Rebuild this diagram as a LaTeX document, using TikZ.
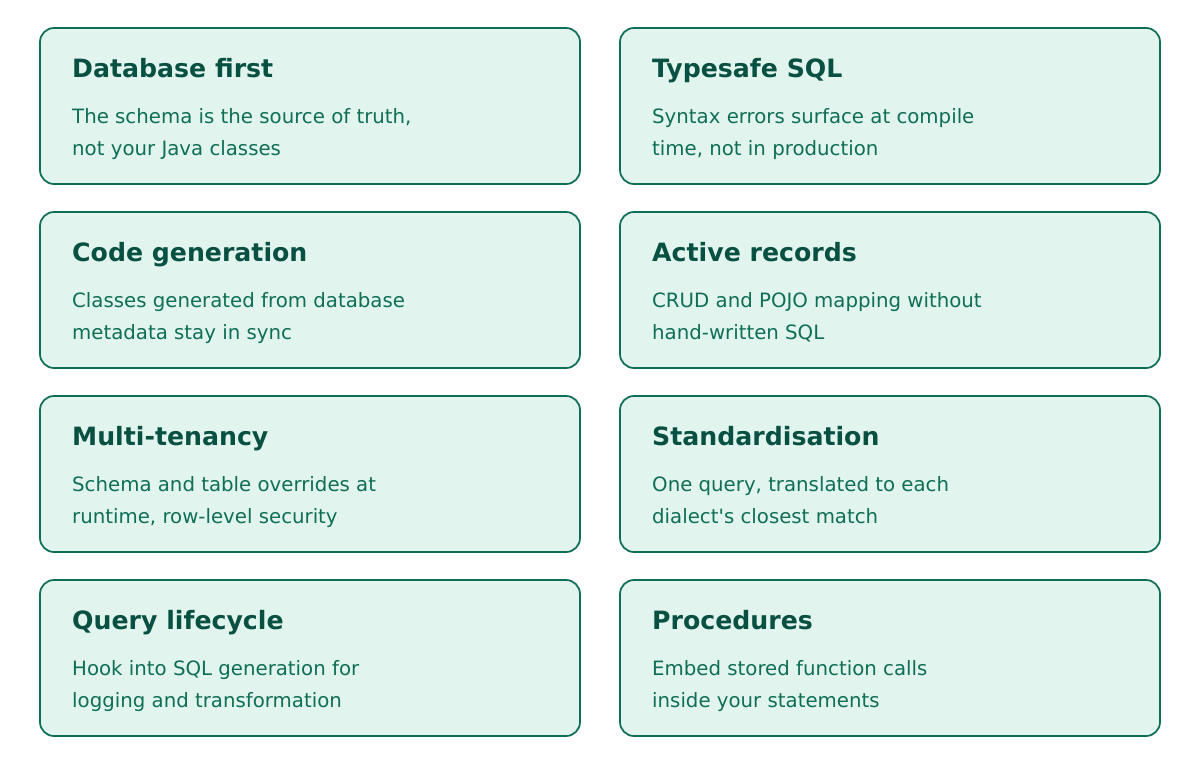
\documentclass[tikz,border=0pt]{standalone}
\usepackage{fontspec}
\setmainfont{DejaVu Sans}
\definecolor{cardfill}{HTML}{E1F5EE}
\definecolor{cardline}{HTML}{0F6E56}
\definecolor{cardtitle}{HTML}{085041}
\definecolor{cardtext}{HTML}{0F6E56}
\tikzset{
  card/.style={draw=cardline, line width=1.75pt, fill=cardfill, rounded corners=14pt},
  cardhead/.style={anchor=base west, inner sep=0pt, text=cardtitle, font=\fontsize{25.2}{29}\selectfont\bfseries},
  cardbody/.style={anchor=base west, inner sep=0pt, text=cardtext, font=\fontsize{19.75}{32}\selectfont},
}
\newcommand{\mkcard}[6]{% name, x, y, title, line1, line2
  \draw[card] (#2,#3) rectangle ++(540,156);
  \node[cardhead] (#1t) at (#2+32,#3+49.5) {#4};
  \node[cardbody] (#1b) at (#2+32,#3+95.7) {#5};
  \node[cardbody] (#1c) at (#2+32,#3+127.5) {#6};
}
\begin{document}
\begin{tikzpicture}[x=1pt,y=-1pt]
\useasboundingbox (0,0) rectangle (1200,772);
\mkcard{a}{40}{28}{Database first}{The schema is the source of truth,}{not your Java classes}
\mkcard{b}{620}{28}{Typesafe SQL}{Syntax errors surface at compile}{time, not in production}
\mkcard{c}{40}{212}{Code generation}{Classes generated from database}{metadata stay in sync}
\mkcard{d}{620}{212}{Active records}{CRUD and POJO mapping without}{hand-written SQL}
\mkcard{e}{40}{396}{Multi-tenancy}{Schema and table overrides at}{runtime, row-level security}
\mkcard{f}{620}{396}{Standardisation}{One query, translated to each}{dialect\textquotesingle s closest match}
\mkcard{g}{40}{580}{Query lifecycle}{Hook into SQL generation for}{logging and transformation}
\mkcard{h}{620}{580}{Procedures}{Embed stored function calls}{inside your statements}
\end{tikzpicture}
\end{document}
